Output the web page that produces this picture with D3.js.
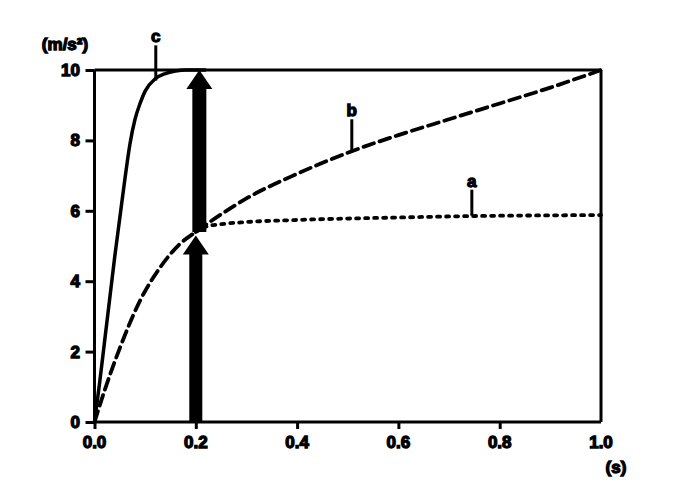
<!DOCTYPE html>
<html>
<head>
<meta charset="utf-8">
<script src="https://cdn.jsdelivr.net/npm/d3@7/dist/d3.min.js"></script>
<style>
  html, body { margin: 0; padding: 0; background: #fff; }
  svg text { font-family: "Liberation Sans", Arial, sans-serif; font-weight: bold; fill: #000; }
</style>
</head>
<body>
<svg id="chart" width="688" height="496"></svg>
<script>
// ---- data ----
const xTicks = [0, 0.2, 0.4, 0.6, 0.8, 1.0];
const xTickLabels = ["0.0", "0.2", "0.4", "0.6", "0.8", "1.0"];
const yTicks = [0, 2, 4, 6, 8, 10];
const yTickLabels = ["0", "2", "4", "6", "8", "10"];

const cTime = [0, 0.01, 0.02, 0.03, 0.04, 0.05, 0.06, 0.07, 0.08, 0.09, 0.10, 0.12, 0.14, 0.16, 0.18, 0.2, 0.22];
const cValue = [0, 1.1, 2.3, 3.5, 4.7, 5.8, 6.9, 7.9, 8.6, 9.05, 9.4, 9.75, 9.9, 9.97, 10, 10, 10];

const bTime = [0, 0.02, 0.05, 0.09, 0.13, 0.168, 0.2, 0.25, 0.3, 0.4, 0.5, 0.6, 0.7, 0.8, 0.9, 1.0];
const bValue = [0, 0.9, 2.1, 3.45, 4.4, 5.05, 5.4, 5.9, 6.35, 7.05, 7.65, 8.15, 8.6, 9.05, 9.5, 10];

const aTime = [0.2, 0.22, 0.25, 0.3, 0.4, 0.5, 0.6, 0.7, 0.8, 0.9, 1.0];
const aValue = [5.4, 5.55, 5.62, 5.68, 5.74, 5.78, 5.81, 5.84, 5.86, 5.87, 5.88];

const curveNames = ["a", "b", "c"];
const labelTime = [0.745, 0.508, 0.121];
const labelValue = [5.86, 7.67, 9.7];
const labelLeaderTop = [6.6, 8.6, 10.7];

const arrowTime = [0.2, 0.207];
const arrowFrom = [0, 5.4];
const arrowTo = [5.3, 10];

// ---- layout ----
const svg = d3.select("#chart");
const x = d3.scaleLinear().domain([0, 1]).range([94.5, 601]);
const y = d3.scaleLinear().domain([0, 10]).range([422, 70]);

svg.append("rect").attr("width", 688).attr("height", 496).attr("fill", "#fff");

// frame top/right
svg.append("line").attr("x1", x(0)).attr("x2", x(1)).attr("y1", y(10)).attr("y2", y(10))
  .attr("stroke", "#000").attr("stroke-width", 3);
svg.append("line").attr("x1", x(1)).attr("x2", x(1)).attr("y1", y(10)).attr("y2", y(0))
  .attr("stroke", "#000").attr("stroke-width", 3);

// axes
const xAxis = d3.axisBottom(x).tickValues(xTicks.slice(0, 5)).tickSize(7).tickFormat("");
const gx = svg.append("g").attr("transform", `translate(0,${y(0)})`).call(xAxis);
const yAxis = d3.axisLeft(y).tickValues(yTicks).tickSize(9).tickFormat("");
const gy = svg.append("g").attr("transform", `translate(${x(0)},0)`).call(yAxis);
[gx, gy].forEach(g => {
  g.select(".domain").attr("stroke", "#000").attr("stroke-width", 3);
  g.selectAll(".tick line").attr("stroke", "#000").attr("stroke-width", 3);
});
gx.select(".domain").attr("d", `M${x(0)},0H${x(1)}`);
gy.select(".domain").attr("d", `M0,${y(0)}V${y(10)}`);

const txtStroke = 1.3;
// tick labels
svg.append("g").selectAll("text").data(xTicks).join("text")
  .attr("x", d => x(d)).attr("y", 448)
  .attr("text-anchor", "middle").attr("font-size", 17)
  .attr("stroke", "#000").attr("stroke-width", txtStroke)
  .text((d, i) => xTickLabels[i]);
svg.append("g").selectAll("text").data(yTicks).join("text")
  .attr("x", 80).attr("y", d => y(d) + 6)
  .attr("text-anchor", "end").attr("font-size", 17)
  .attr("stroke", "#000").attr("stroke-width", txtStroke)
  .text((d, i) => yTickLabels[i]);

// unit labels
svg.append("text").attr("x", 616).attr("y", 473).attr("text-anchor", "middle")
  .attr("font-size", 17).attr("stroke", "#000").attr("stroke-width", txtStroke).text("(s)");
svg.append("text").attr("x", 65).attr("y", 50).attr("text-anchor", "middle")
  .attr("font-size", 17).attr("stroke", "#000").attr("stroke-width", txtStroke).text("(m/s²)");

// curves
const line = d3.line().x(d => x(d[0])).y(d => y(d[1])).curve(d3.curveMonotoneX);
svg.append("path").datum(cTime.map((t, i) => [t, cValue[i]]))
  .attr("d", line).attr("fill", "none").attr("stroke", "#000").attr("stroke-width", 3.5);
svg.append("path").datum(bTime.map((t, i) => [t, bValue[i]]))
  .attr("d", line).attr("fill", "none").attr("stroke", "#000").attr("stroke-width", 3.8)
  .attr("stroke-dasharray", "11,6").attr("stroke-linecap", "round");
svg.append("path").datum(aTime.map((t, i) => [t, aValue[i]]))
  .attr("d", line).attr("fill", "none").attr("stroke", "#000").attr("stroke-width", 3.8)
  .attr("stroke-dasharray", "3,6").attr("stroke-linecap", "round");

// arrows
const shaftW = [13, 14];
arrowTime.forEach((t, i) => {
  const cx = x(t), y0 = y(arrowFrom[i]), y1 = y(arrowTo[i]);
  const headH = 19, headW = 26, sw = shaftW[i] / 2;
  const p = d3.path();
  p.moveTo(cx - sw, y0);
  p.lineTo(cx - sw, y1 + headH);
  p.lineTo(cx - headW / 2, y1 + headH);
  p.lineTo(cx, y1);
  p.lineTo(cx + headW / 2, y1 + headH);
  p.lineTo(cx + sw, y1 + headH);
  p.lineTo(cx + sw, y0);
  p.closePath();
  svg.append("path").attr("d", p.toString()).attr("fill", "#000");
});

// curve labels with leader lines
curveNames.forEach((n, i) => {
  const lx = x(labelTime[i]);
  svg.append("line").attr("x1", lx).attr("x2", lx)
    .attr("y1", y(labelValue[i])).attr("y2", y(labelLeaderTop[i]))
    .attr("stroke", "#000").attr("stroke-width", 3);
  svg.append("text").attr("x", lx).attr("y", y(labelLeaderTop[i]) - 3)
    .attr("text-anchor", "middle").attr("font-size", 17)
    .attr("stroke", "#000").attr("stroke-width", txtStroke).text(n);
});
</script>
</body>
</html>
